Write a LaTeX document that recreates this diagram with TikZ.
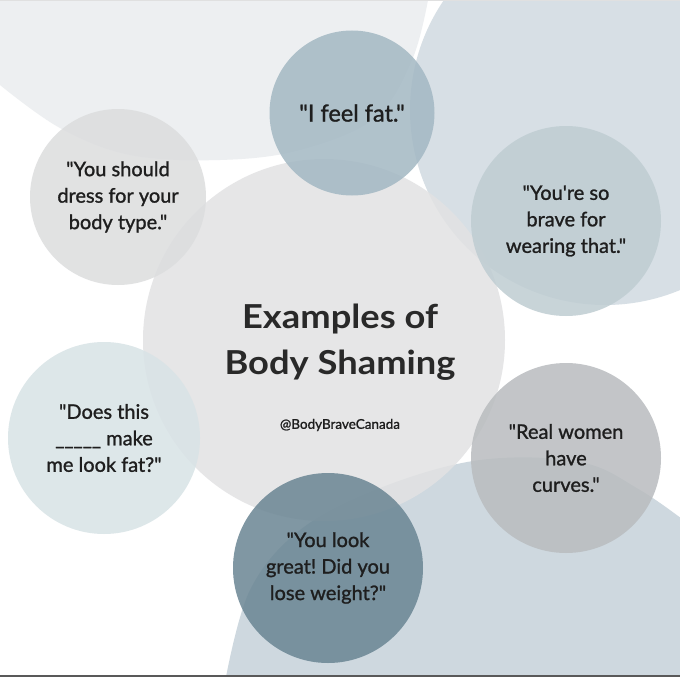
\documentclass[tikz,border=0pt]{standalone}
\usepackage{fontspec}
\setmainfont{Lato}[Ligatures=TeXOff]
\newfontfamily\titlefont{Lato}[Ligatures=TeXOff, FakeStretch=1.1]
\newfontfamily\circfont{Lato}[Ligatures=TeXOff, FakeBold=1.2]
\frenchspacing
\begin{document}
\begin{tikzpicture}[x=1pt,y=-1pt]
\definecolor{tlgrey}{HTML}{EDEFF1}
\definecolor{rblob}{HTML}{D7DFE5}
\definecolor{bblob}{HTML}{CED8DF}
\definecolor{centerc}{HTML}{E2E2E3}
\definecolor{dressc}{HTML}{DCDDDE}
\definecolor{fatc}{HTML}{A3B8C3}
\definecolor{bravec}{HTML}{BFCDD2}
\definecolor{doesc}{HTML}{D8E3E6}
\definecolor{realc}{HTML}{B9BCBF}
\definecolor{greatc}{HTML}{6A8593}
\definecolor{ink}{HTML}{1E1E1E}
\tikzset{
  bubble/.style={circle, inner sep=0pt, align=center, text=ink,
    font=\circfont\fontsize{20}{26.5}\selectfont, fill opacity=0.85, text opacity=1},
  titletext/.style={align=center, text=ink!95, font=\titlefont\bfseries\fontsize{33}{46}\selectfont},
}
\useasboundingbox (0,0) rectangle (680,677);
\clip (0,0) rectangle (680,677);
\fill[white] (0,0) rectangle (680,677);
% background blobs
\fill[tlgrey] (0,0) -- plot[smooth, tension=0.6] coordinates {(0,85) (60,128) (130,155) (220,160) (300,150) (375,118) (412,60) (428,0)} -- cycle;
\fill[rblob] (605,110) circle[radius=195];
\fill[rblob] (560,0) rectangle (680,200);
\fill[bblob] plot[smooth, tension=0.6] coordinates {(226,677) (250,590) (300,530) (380,488) (480,460) (580,462) (640,490) (690,525)} -- (690,677) -- cycle;
% central circle
\node[bubble, fill=centerc, minimum size=362] (center) at (324,340) {};
% small circles
\node[bubble, fill=dressc, minimum size=176] (dress) at (118,197) {"You should\\dress for your\\body type."};
\node[bubble, fill=fatc, minimum size=165, font=\circfont\fontsize{23.5}{26}\selectfont] (fat) at (352,113) {"I feel fat."};
\node[bubble, fill=bravec, minimum size=190] (brave) at (566,221) {"You're so\\brave for\\wearing that."};
\node[bubble, fill=doesc, minimum size=192] (does) at (104,438) {"Does this\\\_\_\_\_\_ make\\me look fat?"};
\node[bubble, fill=realc, minimum size=190] (real) at (566,458) {"Real women\\have\\curves."};
\node[bubble, fill=greatc, minimum size=190] (great) at (328,568) {"You look\\great! Did you\\lose weight?"};
% title
\node[titletext] (title) at (340,342) {Examples of\\Body Shaming};
\node[text=ink, font=\circfont\fontsize{13.5}{15}\selectfont] (handle) at (340,425) {@BodyBraveCanada};
% frame lines
\fill[black!65] (0,675) rectangle (680,677);
\fill[black!12] (0,0) rectangle (680,1.5);
\end{tikzpicture}
\end{document}
